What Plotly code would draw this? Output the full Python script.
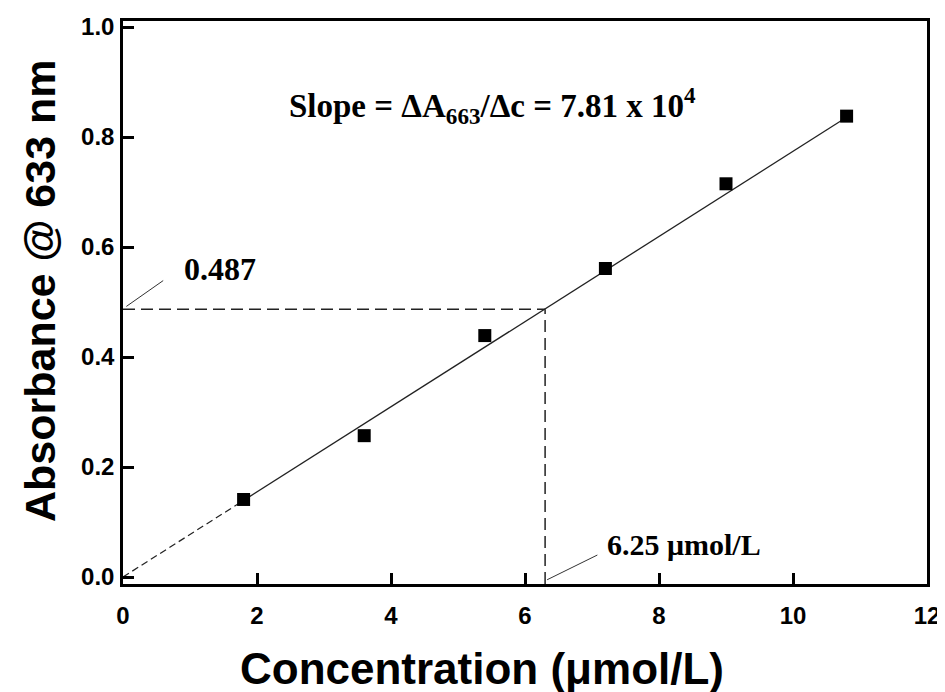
import plotly.graph_objects as go

# Data
conc = [1.8, 3.6, 5.4, 7.2, 9.0, 10.8]
absorb = [0.141, 0.257, 0.439, 0.561, 0.715, 0.838]
fit_x_dash = [0.0, 1.8]
fit_y_dash = [0.0, 0.1393]
fit_x = [1.8, 10.8]
fit_y = [0.1393, 0.836]
sample_conc = 6.3
sample_abs = 0.487
x_ticks = [0, 2, 4, 6, 8, 10, 12]
y_ticks = [0.0, 0.2, 0.4, 0.6, 0.8, 1.0]
y_min, y_max = -0.0127, 1.011

fig = go.Figure()

# fit line (dashed near origin, then solid)
fig.add_trace(go.Scatter(x=fit_x_dash, y=fit_y_dash, mode="lines",
                         line=dict(color="#222", width=1.2, dash="7px,4px"),
                         hoverinfo="skip", showlegend=False))
fig.add_trace(go.Scatter(x=fit_x, y=fit_y, mode="lines",
                         line=dict(color="#222", width=1.3),
                         hoverinfo="skip", showlegend=False))

# dashed read-off lines
fig.add_trace(go.Scatter(x=[0, sample_conc], y=[sample_abs, sample_abs], mode="lines",
                         line=dict(color="#222", width=1.5, dash="12px,6px"),
                         hoverinfo="skip", showlegend=False))
fig.add_trace(go.Scatter(x=[sample_conc, sample_conc], y=[y_min, sample_abs], mode="lines",
                         line=dict(color="#222", width=1.5, dash="12px,6px"),
                         hoverinfo="skip", showlegend=False))

# callout leader lines
fig.add_trace(go.Scatter(x=[0.05, 0.6], y=[sample_abs + 0.005, 0.539], mode="lines",
                         line=dict(color="#333", width=1),
                         hoverinfo="skip", showlegend=False))
fig.add_trace(go.Scatter(x=[sample_conc + 0.03, 7.08], y=[-0.005, 0.04], mode="lines",
                         line=dict(color="#333", width=1),
                         hoverinfo="skip", showlegend=False))

# data points
fig.add_trace(go.Scatter(x=conc, y=absorb, mode="markers",
                         marker=dict(symbol="square", size=13, color="black"),
                         showlegend=False))

serif = "Liberation Serif, Times New Roman, serif"
sans = "Liberation Sans, Arial, sans-serif"

fig.add_annotation(x=0.88, y=0.56, xref="x", yref="y", xanchor="left", yanchor="middle",
                   text="<b>0.487</b>", showarrow=False,
                   font=dict(family=serif, size=32, color="black"))
fig.add_annotation(x=7.2, y=0.06, xref="x", yref="y", xanchor="left", yanchor="middle",
                   text="<b>6.25 μmol/L</b>", showarrow=False,
                   font=dict(family=serif, size=30, color="black"))
fig.add_annotation(x=2.45, y=0.858, xref="x", yref="y", xanchor="left", yanchor="middle",
                   text="<b>Slope = ΔA<sub>663</sub>/Δc = 7.81 x 10<sup>4</sup></b>",
                   showarrow=False,
                   font=dict(family=serif, size=33, color="black"))

# page body has an 8px margin: size the figure so it fits the 945x692 window
W, H = 937, 684
L, T, R, B = 115, 13, 18, 108
pw, ph = W - L - R, H - T - B

# axis titles (placed as annotations, slightly off-centre as in the reference)
fig.add_annotation(x=(482 - 8 - L) / pw, y=(H - B - (668 - 8)) / ph,
                   xref="paper", yref="paper", xanchor="center", yanchor="middle",
                   text="<b>Concentration (μmol/L)</b>", showarrow=False,
                   font=dict(family=sans, size=44, color="black"))
fig.add_annotation(x=(40 - 8 - L) / pw, y=(H - B - (291 - 8)) / ph,
                   xref="paper", yref="paper", xanchor="center", yanchor="middle",
                   textangle=-90, text="<b>Absorbance @ 633 nm</b>", showarrow=False,
                   font=dict(family=sans, size=43, color="black"))

axis_common = dict(showline=True, linecolor="black", linewidth=2.5, mirror=True,
                   ticks="inside", ticklen=11, tickwidth=2.5, tickcolor="black",
                   showgrid=False, zeroline=False, automargin=False,
                   tickfont=dict(family=sans, size=24, color="black"))

fig.update_xaxes(range=[0, 12], tickvals=x_ticks,
                 ticktext=[f"<b>{v}</b>" for v in x_ticks],
                 ticklabelstandoff=8, **axis_common)
fig.update_yaxes(range=[y_min, y_max], tickvals=y_ticks,
                 ticktext=[f"<b>{v:.1f}</b>" for v in y_ticks],
                 ticklabelstandoff=1, **axis_common)

fig.update_layout(width=W, height=H,
                  margin=dict(l=L, r=R, t=T, b=B),
                  paper_bgcolor="white", plot_bgcolor="white")

fig.write_html("out.html")
